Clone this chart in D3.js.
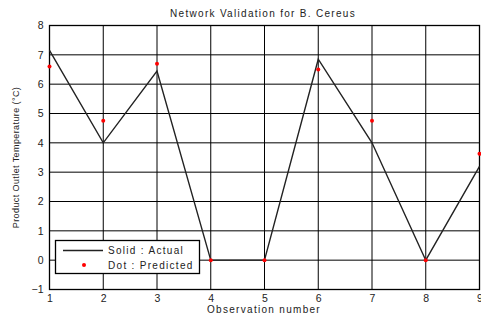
<!DOCTYPE html>
<html>
<head>
<meta charset="utf-8">
<script src="https://cdn.jsdelivr.net/npm/d3@7"></script>
<style>
  html, body { margin: 0; padding: 0; background: #fff; }
  svg { display: block; font-family: "Liberation Sans", Arial, sans-serif; }
</style>
</head>
<body>
<svg id="chart" width="481" height="321"></svg>
<script>
// Observation index and temperatures for the B. Cereus validation run
const observations = [1, 2, 3, 4, 5, 6, 7, 8, 9];
const actual       = [7.15, 4.0, 6.45, 0, 0, 6.85, 4.0, 0, 3.2];
const predicted    = [6.6, 4.75, 6.7, 0, 0, 6.5, 4.75, 0, 3.63];
const xTicks = [1, 2, 3, 4, 5, 6, 7, 8, 9];
const yTicks = [-1, 0, 1, 2, 3, 4, 5, 6, 7, 8];

const svg = d3.select("#chart");
const m = { left: 49.5, right: 479.5, top: 25.5, bottom: 289.5 };

const x = d3.scaleLinear().domain([1, 9]).range([m.left, m.right]);
const y = d3.scaleLinear().domain([-1, 8]).range([m.bottom, m.top]);

// grid
const grid = svg.append("g");
grid.selectAll("line.v").data(xTicks).join("line")
  .attr("x1", d => x(d)).attr("x2", d => x(d))
  .attr("y1", m.top).attr("y2", m.bottom)
  .attr("stroke", "#000").attr("stroke-width", 1);
grid.selectAll("line.h").data(yTicks).join("line")
  .attr("x1", m.left).attr("x2", m.right)
  .attr("y1", d => y(d)).attr("y2", d => y(d))
  .attr("stroke", "#000").attr("stroke-width", 1);

// axes
const xAxis = d3.axisBottom(x).tickValues(xTicks).tickSize(0).tickPadding(5).tickFormat(d3.format("d"));
const yAxis = d3.axisLeft(y).tickValues(yTicks).tickSize(0).tickPadding(6).tickFormat(d3.format("d"));
const gx = svg.append("g").attr("transform", `translate(0,${m.bottom})`).call(xAxis);
const gy = svg.append("g").attr("transform", `translate(${m.left},0)`).call(yAxis);
[gx, gy].forEach(g => {
  g.select(".domain").remove();
  g.selectAll("text").attr("font-size", 10.5).attr("fill", "#222")
    .attr("font-family", "'Liberation Sans', Arial, sans-serif");
});

// frame
svg.append("rect")
  .attr("x", m.left).attr("y", m.top)
  .attr("width", m.right - m.left).attr("height", m.bottom - m.top)
  .attr("fill", "none").attr("stroke", "#000").attr("stroke-width", 1.3);

// actual (solid line)
const pts = observations.map((o, i) => ({ o, a: actual[i], p: predicted[i] }));
svg.append("path")
  .datum(pts)
  .attr("fill", "none").attr("stroke", "#222").attr("stroke-width", 1.4)
  .attr("d", d3.line().x(d => x(d.o)).y(d => y(d.a)));

// predicted (dots)
svg.append("g").selectAll("circle").data(pts).join("circle")
  .attr("cx", d => x(d.o)).attr("cy", d => y(d.p)).attr("r", 2)
  .attr("fill", "#ff0000");

// title and axis labels
svg.append("text").attr("x", 263).attr("y", 17).attr("text-anchor", "middle")
  .attr("font-size", 10).attr("letter-spacing", 1.3).attr("fill", "#222")
  .text("Network Validation for B. Cereus");
svg.append("text").attr("x", 264).attr("y", 313).attr("text-anchor", "middle")
  .attr("font-size", 10).attr("letter-spacing", 1.3).attr("fill", "#222")
  .text("Observation number");
svg.append("text").attr("transform", `translate(19,${(m.top + m.bottom) / 2}) rotate(-90)`)
  .attr("text-anchor", "middle").attr("font-size", 9).attr("letter-spacing", 0.4).attr("fill", "#222")
  .text("Product Outlet Temperature (°C)");

// legend
const lg = svg.append("g");
lg.append("rect").attr("x", 55.5).attr("y", 240.5).attr("width", 144).attr("height", 33)
  .attr("fill", "#fff").attr("stroke", "#000").attr("stroke-width", 1.3);
lg.append("line").attr("x1", 63).attr("x2", 103).attr("y1", 250.5).attr("y2", 250.5)
  .attr("stroke", "#222").attr("stroke-width", 1.4);
lg.append("circle").attr("cx", 84).attr("cy", 265).attr("r", 2).attr("fill", "#ff0000");
lg.append("text").attr("x", 108).attr("y", 254).attr("font-size", 10).attr("letter-spacing", 1.3)
  .attr("fill", "#222").text("Solid : Actual");
lg.append("text").attr("x", 108).attr("y", 268.5).attr("font-size", 10).attr("letter-spacing", 1.3)
  .attr("fill", "#222").text("Dot : Predicted");
</script>
</body>
</html>
